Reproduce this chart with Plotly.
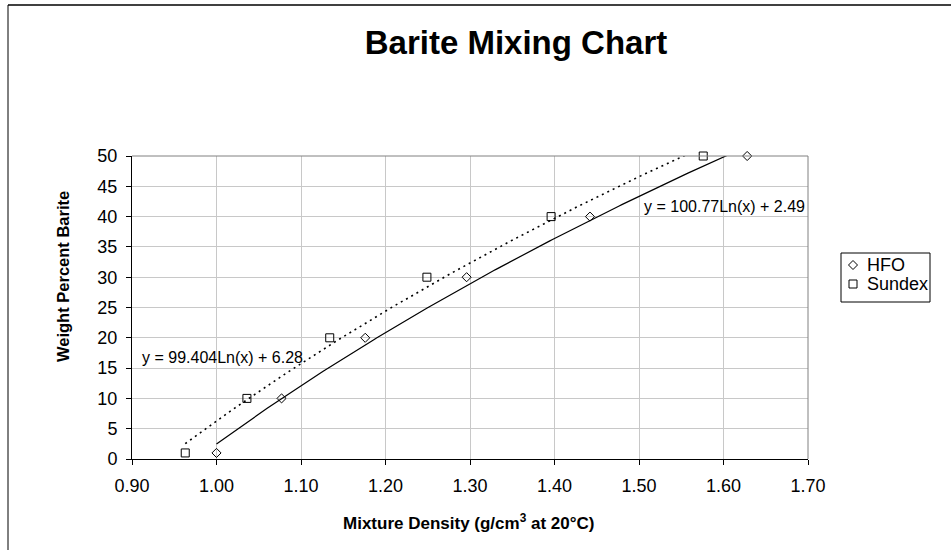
import numpy as np
import plotly.graph_objects as go

# Measured mixture densities (g/cm3 at 20°C) and barite weight percent
wt_percent = [1, 10, 20, 30, 40, 50]
hfo_density = [1.000, 1.077, 1.176, 1.296, 1.442, 1.628]
sundex_density = [0.963, 1.036, 1.134, 1.249, 1.396, 1.576]

# Logarithmic trendlines: y = a*ln(x) + b
hfo_fit = (100.77, 2.49)
sundex_fit = (99.404, 6.28)

x_ticks = [0.90, 1.00, 1.10, 1.20, 1.30, 1.40, 1.50, 1.60, 1.70]
y_ticks = [0, 5, 10, 15, 20, 25, 30, 35, 40, 45, 50]
series_names = ["HFO", "Sundex"]

FONT = "Liberation Sans, Arial, sans-serif"

L, R, T, B = 132, 143, 156, 91
W, H = 951, 550
pw, ph = W - L - R, H - T - B


def px_x(p):
    return (p - L) / pw


def px_y(p):
    return (H - B - p) / ph


def trend(xs, coef):
    a, b = coef
    xx = np.linspace(min(xs), max(xs), 200)
    return xx, a * np.log(xx) + b


fig = go.Figure()

hx, hy = trend(hfo_density, hfo_fit)
sx, sy = trend(sundex_density, sundex_fit)

fig.add_trace(go.Scatter(x=hx, y=hy, mode="lines", showlegend=False,
                         line=dict(color="black", width=1.2), hoverinfo="skip"))
fig.add_trace(go.Scatter(x=sx, y=sy, mode="lines", showlegend=False,
                         line=dict(color="black", width=1.6, dash="2px,4px"),
                         hoverinfo="skip"))

symbols = ["diamond-open", "square-open"]
sizes = [7, 8]

fig.add_trace(go.Scatter(x=hfo_density, y=wt_percent, mode="markers", name=series_names[0],
                         cliponaxis=False, showlegend=False,
                         marker=dict(symbol=symbols[0], size=sizes[0], color="black",
                                     line=dict(width=1, color="black"))))
fig.add_trace(go.Scatter(x=sundex_density, y=wt_percent, mode="markers", name=series_names[1],
                         cliponaxis=False, showlegend=False,
                         marker=dict(symbol=symbols[1], size=sizes[1], color="black",
                                     line=dict(width=1, color="black"))))

axis_common = dict(showgrid=True, gridcolor="#c8c8c8", gridwidth=1,
                   showline=True, linecolor="black", linewidth=1,
                   ticks="outside", ticklen=5, tickcolor="black",
                   tickfont=dict(family=FONT, size=18, color="black"),
                   zeroline=False)

fig.update_xaxes(range=[0.90, 1.70], tickvals=x_ticks,
                 ticktext=[f"{v:.2f}" for v in x_ticks],
                 ticklabelstandoff=5, **axis_common)
fig.update_yaxes(range=[0, 50], tickvals=y_ticks,
                 ticktext=[str(v) for v in y_ticks],
                 ticklabelstandoff=5, **axis_common)

shapes = [
    # gray top and right edges of the plot area
    dict(type="line", xref="paper", yref="paper", x0=0, x1=1, y0=1, y1=1,
         line=dict(color="#808080", width=1)),
    dict(type="line", xref="paper", yref="paper", x0=1, x1=1, y0=0, y1=1,
         line=dict(color="#808080", width=1)),
    # chart-area frame
    dict(type="line", xref="paper", yref="paper", x0=px_x(8), x1=px_x(8),
         y0=px_y(5), y1=px_y(560), line=dict(color="black", width=1)),
    dict(type="line", xref="paper", yref="paper", x0=px_x(8), x1=px_x(960),
         y0=px_y(5), y1=px_y(5), line=dict(color="black", width=1.5)),
    # legend box
    dict(type="rect", xref="paper", yref="paper", x0=px_x(841), x1=px_x(930),
         y0=px_y(302), y1=px_y(253), line=dict(color="black", width=1),
         fillcolor="rgba(0,0,0,0)"),
]

# Legend key glyphs drawn as pixel-sized paths
key_paths = {
    "diamond-open": "M0,4.5 L4.5,0 L0,-4.5 L-4.5,0 Z",
    "square-open": "M-4,-4 L4,-4 L4,4 L-4,4 Z",
}
legend_rows = [265, 284]
for sym, row in zip(symbols, legend_rows):
    shapes.append(dict(type="path", xref="paper", yref="paper",
                       xsizemode="pixel", ysizemode="pixel",
                       xanchor=px_x(853), yanchor=px_y(row),
                       path=key_paths[sym], line=dict(color="black", width=1),
                       fillcolor="rgba(0,0,0,0)"))

annotations = [
    dict(text="y = 99.404Ln(x) + 6.28", x=0.909, y=16.8, xref="x", yref="y",
         xanchor="left", yanchor="middle", showarrow=False,
         font=dict(family=FONT, size=16, color="black")),
    dict(text="y = 100.77Ln(x) + 2.49", x=1.504, y=41.6, xref="x", yref="y",
         xanchor="left", yanchor="middle", showarrow=False,
         font=dict(family=FONT, size=16, color="black")),
    dict(text="<b>Mixture Density (g/cm<sup>3</sup> at 20°C)</b>", x=px_x(469), y=px_y(522),
         xref="paper", yref="paper", xanchor="center", yanchor="middle",
         showarrow=False, font=dict(family=FONT, size=17, color="black")),
    dict(text="<b>Weight Percent Barite</b>", x=px_x(63), y=px_y(277),
         xref="paper", yref="paper", xanchor="center", yanchor="middle",
         textangle=-90, showarrow=False,
         font=dict(family=FONT, size=16.5, color="black")),
]
for name, row in zip(series_names, legend_rows):
    annotations.append(dict(text=name, x=px_x(865), y=px_y(row), xref="paper", yref="paper",
                            xanchor="left", yanchor="middle", showarrow=False,
                            font=dict(family=FONT, size=18, color="black")))

fig.update_layout(
    width=W, height=H,
    margin=dict(l=L, r=R, t=T, b=B, pad=0, autoexpand=False),
    paper_bgcolor="white", plot_bgcolor="white",
    title=dict(text="<b>Barite Mixing Chart</b>", x=516 / W, xref="container",
               xanchor="center", y=1 - 42 / H, yref="container", yanchor="middle",
               font=dict(family=FONT, size=33, color="black")),
    shapes=shapes,
    annotations=annotations,
    showlegend=False,
)

fig.write_html("out.html")
